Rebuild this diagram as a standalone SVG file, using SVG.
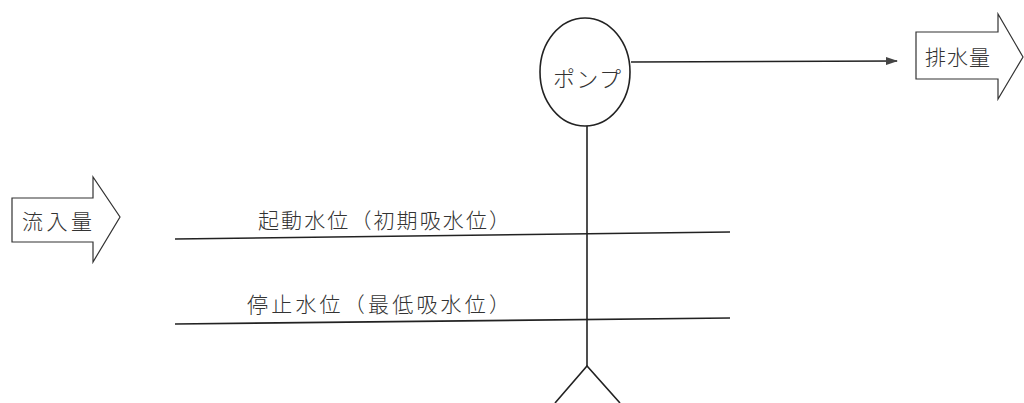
<svg xmlns="http://www.w3.org/2000/svg" width="1024" height="403" viewBox="0 0 1024 403">
<style>
.ln{stroke:#222;stroke-width:1.6;fill:none}
.bx{stroke:#333;stroke-width:1.2;fill:#fff}
.t{font-family:"Noto Sans CJK JP","Noto Sans CJK SC",sans-serif;fill:#333;font-weight:300}
</style>
<defs>
<marker id="ah" markerWidth="12" markerHeight="8" refX="11" refY="4" orient="auto" markerUnits="userSpaceOnUse">
<path d="M0,0 L12,4 L0,8 Z" fill="#444"/>
</marker>
</defs>
<rect width="1024" height="403" fill="#fff"/>
<g id="connectors">
<line class="ln" x1="631" y1="62" x2="897" y2="61" marker-end="url(#ah)"/>
<line class="ln" x1="587" y1="126" x2="587" y2="366"/>
<polyline class="ln" points="555,403 587,366 620,403"/>
<line class="ln" x1="175" y1="239" x2="730" y2="232"/>
<line class="ln" x1="175" y1="324" x2="730" y2="318"/>
</g>
<g id="pump">
<ellipse class="ln" cx="585" cy="72" rx="45" ry="54"/>
<text class="t" x="587" y="87" font-size="22" text-anchor="middle" textLength="68">ポンプ</text>
</g>
<g id="outflow">
<path class="bx" d="M916,32 L998,32 L998,14 L1023,57 L998,99 L998,79 L916,79 Z"/>
<text class="t" x="925" y="65" font-size="21" textLength="65">排水量</text>
</g>
<g id="inflow">
<path class="bx" d="M12,198 L93,198 L93,177 L120,217 L93,262 L93,242 L12,242 Z"/>
<text class="t" x="22" y="229" font-size="21" textLength="70">流入量</text>
</g>
<g id="start-level">
<text class="t" x="258" y="228" font-size="21" textLength="252">起動水位（初期吸水位）</text>
</g>
<g id="stop-level">
<text class="t" x="247" y="312" font-size="21" textLength="263">停止水位（最低吸水位）</text>
</g>
</svg>
